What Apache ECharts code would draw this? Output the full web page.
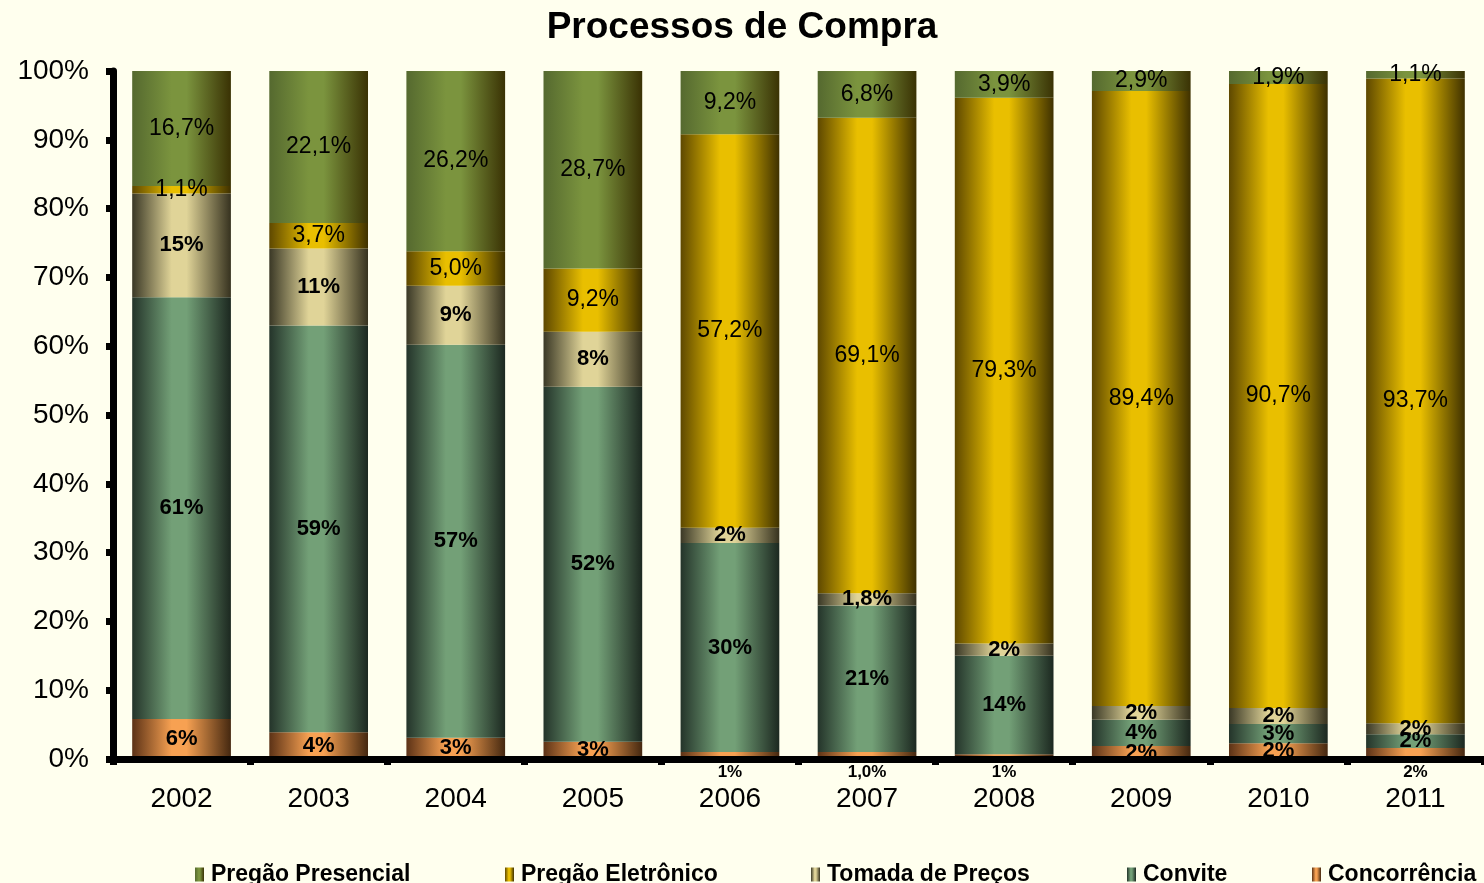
<!DOCTYPE html>
<html>
<head>
<meta charset="utf-8">
<style>
html,body{margin:0;padding:0;background:#ffffee;}
#chart{width:1484px;height:883px;}
</style>
<script src="https://cdn.jsdelivr.net/npm/echarts@6/dist/echarts.min.js"></script>
</head>
<body>
<div id="chart"></div>
<script>
const years = ['2002','2003','2004','2005','2006','2007','2008','2009','2010','2011'];
const presencial   = [16.7, 22.1, 26.2, 28.7, 9.2, 6.8, 3.9, 2.9, 1.9, 1.1];
const eletronico   = [1.1, 3.7, 5.0, 9.2, 57.2, 69.1, 79.3, 89.4, 90.7, 93.7];
const tomada       = [15.1, 11.2, 8.6, 8.0, 2.2, 1.8, 1.8, 2.0, 2.3, 1.6];
const convite      = [61.3, 59.1, 57.1, 51.6, 30.4, 21.3, 14.3, 3.8, 2.8, 2.0];
const concorrencia = [5.8, 3.9, 3.1, 2.5, 1.0, 1.0, 0.7, 1.9, 2.3, 1.6];
const tomadaDecimals = [0,0,0,0,0,1,0,0,0,0];
const conviteDecimals = [0,0,0,0,0,0,0,0,0,0];
const concDecimals = [0,0,0,0,0,1,0,0,0,0];
const concLabelBelow = [false,false,false,false,true,true,true,false,false,true];
const yTicks = [0,10,20,30,40,50,60,70,80,90,100];

const FONT = 'Liberation Sans, Arial, sans-serif';

function grad(l, m, r) {
  return new echarts.graphic.LinearGradient(0, 0, 1, 0, [
    {offset: 0, color: l},
    {offset: 0.4, color: m},
    {offset: 0.55, color: m},
    {offset: 1, color: r}
  ]);
}
function fmt(v, d) {
  return v.toFixed(d).replace('.', ',') + '%';
}

const colors = {
  'Pregão Presencial': grad('#55692f', '#7b943e', '#3a3204'),
  'Pregão Eletrônico': grad('#5e4800', '#e9bf00', '#3f3100'),
  'Tomada de Preços': grad('#3a3826', '#e0d498', '#36321f'),
  'Convite': grad('#24342a', '#73a077', '#1c2820'),
  'Concorrência': grad('#5c3216', '#f7a152', '#452810')
};

function mkSeries(name, values, decimals, bold) {
  return {
    name: name,
    type: 'bar',
    stack: 'total',
    barWidth: '72%',
    itemStyle: {color: colors[name], borderWidth: 0},
    data: values.map((v, i) => {
      const item = {value: v};
      const isConc = name === 'Concorrência';
      item.label = {
        show: true,
        position: (isConc && concLabelBelow[i]) ? 'bottom' : 'inside',
        distance: 5,
        formatter: fmt(v, decimals[i]),
        color: '#000',
        fontFamily: FONT,
        fontWeight: bold ? 'bold' : 'normal',
        fontSize: (isConc && concLabelBelow[i]) ? 17 : (bold ? 22 : 23)
      };
      return item;
    })
  };
}

const ones = years.map(() => 1);
const series = [
  mkSeries('Concorrência', concorrencia, concDecimals, true),
  mkSeries('Convite', convite, conviteDecimals, true),
  mkSeries('Tomada de Preços', tomada, tomadaDecimals, true),
  mkSeries('Pregão Eletrônico', eletronico, ones, false),
  mkSeries('Pregão Presencial', presencial, ones, false)
];

const legendNames = ['Pregão Presencial','Pregão Eletrônico','Tomada de Preços','Convite','Concorrência'];
const legendLeft = [190, 500, 806, 1122, 1307];
const legends = legendNames.map((n, i) => ({
  data: [{name: n, icon: 'rect'}],
  left: legendLeft[i],
  top: 858,
  itemWidth: 9,
  itemHeight: 14,
  itemGap: 0,
  selectedMode: false,
  textStyle: {fontFamily: FONT, fontWeight: 'bold', fontSize: 23, color: '#000', padding: [0,0,0,2]}
}));

const chart = echarts.init(document.getElementById('chart'), null, {renderer: 'canvas'});
chart.setOption({
  backgroundColor: '#ffffee',
  animation: false,
  title: {
    text: 'Processos de Compra',
    left: 'center',
    top: 4,
    textStyle: {fontFamily: FONT, fontWeight: 'bold', fontSize: 37, color: '#000'}
  },
  legend: legends,
  grid: {left: 113, right: 0, top: 71, bottom: 124, containLabel: false},
  xAxis: {
    type: 'category',
    data: years,
    z: 10,
    axisLine: {show: true, lineStyle: {color: '#000', width: 7}},
    axisTick: {show: true, length: 6, interval: 0, lineStyle: {color: '#000', width: 7}},
    axisLabel: {fontFamily: FONT, fontSize: 28, color: '#000', margin: 26}
  },
  yAxis: {
    type: 'value',
    min: yTicks[0],
    max: yTicks[yTicks.length - 1],
    interval: 10,
    splitLine: {show: false},
    axisLine: {show: true, lineStyle: {color: '#000', width: 7}},
    axisTick: {show: true, length: 7, lineStyle: {color: '#000', width: 7}},
    axisLabel: {fontFamily: FONT, fontSize: 28, color: '#000', margin: 24, formatter: '{value}%'}
  },
  series: series
});
</script>
</body>
</html>
